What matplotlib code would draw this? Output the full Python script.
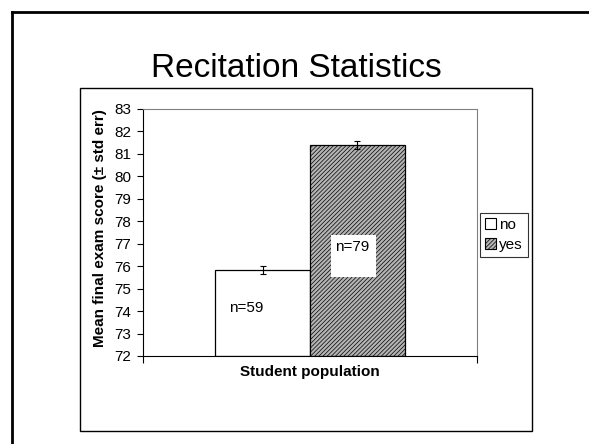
import matplotlib.pyplot as plt
from matplotlib.patches import Rectangle, Patch
from matplotlib.lines import Line2D

plt.rcParams['font.family'] = ['Liberation Sans', 'DejaVu Sans']
plt.rcParams['hatch.linewidth'] = 0.5

groups = ['no', 'yes']
means = [75.83, 81.4]
errs = [0.17, 0.17]
counts = [59, 79]
yticks = list(range(72, 84))

W, H = 589, 444
fig = plt.figure(figsize=(W / 100, H / 100), dpi=100)

# slide border (top + left, cut off by the image edges)
fig.add_artist(Line2D([12 / W, 12 / W], [0, 1 - 12 / H], color='black', lw=2,
                      transform=fig.transFigure))
fig.add_artist(Line2D([12 / W, 1], [1 - 12 / H, 1 - 12 / H], color='black', lw=2,
                      transform=fig.transFigure))

# chart frame
fig.add_artist(Rectangle((80 / W, 1 - 431 / H), (532 - 80) / W, (431 - 88) / H,
                         fill=False, edgecolor='black', lw=1,
                         transform=fig.transFigure))

fig.text(296 / W, 1 - 77 / H, 'Recitation Statistics', fontsize=24,
         ha='center', va='baseline')

ax = fig.add_axes([143 / W, 1 - 356 / H, 334 / W, 247 / H])

width = 0.2844
styles = [dict(facecolor='white', hatch=None),
          dict(facecolor='#b4b4b4', hatch='////////')]
handles = []
for i, g in enumerate(groups):
    x = (i - 0.5) * width
    ax.bar(x, means[i] - 72, width=width, bottom=72, edgecolor='black',
           lw=0.9, **styles[i])
    ax.errorbar(x, means[i], yerr=errs[i], color='black', capsize=2.2,
                lw=0.8, capthick=0.8)
    handles.append(Patch(edgecolor='black', lw=0.8, label=g, **styles[i]))

# sample size labels
ax.text(-0.19, 74.14, f'n={counts[0]}', fontsize=11, ha='center', va='center')
ax.add_patch(Rectangle((0.063, 75.52), 0.135, 1.87, facecolor='white',
                       edgecolor='none', zorder=3))
ax.text(0.125, 76.85, f'n={counts[1]}', fontsize=11, ha='center', va='center',
        zorder=4)

ax.set_xlim(-0.5, 0.5)
ax.set_ylim(72, 83)
ax.set_yticks(yticks)
ax.set_xticks([-0.5, 0.5])
ax.set_xticklabels([])
ax.tick_params(axis='y', direction='out', length=4, labelsize=11, pad=4.5)
ax.tick_params(axis='x', direction='out', length=5)
for s in ['top', 'right']:
    ax.spines[s].set_color('#808080')
for s in ['left', 'bottom']:
    ax.spines[s].set_color('black')

fig.text(100 / W, 1 - 228 / H, 'Mean final exam score (± std err)',
         rotation=90, fontsize=11, fontweight='bold', ha='center', va='center')
fig.text(310 / W, 1 - 372 / H, 'Student population', fontsize=11,
         fontweight='bold', ha='center', va='center')

leg = fig.legend(handles=handles, loc='center',
                 bbox_to_anchor=(504 / W, 1 - 235 / H), fontsize=11,
                 frameon=True, fancybox=False, edgecolor='black',
                 borderpad=0.3, handlelength=0.75, handleheight=0.75,
                 handletextpad=0.2, labelspacing=0.4, borderaxespad=0)
leg.get_frame().set_linewidth(0.8)

fig.savefig('out.png', dpi=100)
